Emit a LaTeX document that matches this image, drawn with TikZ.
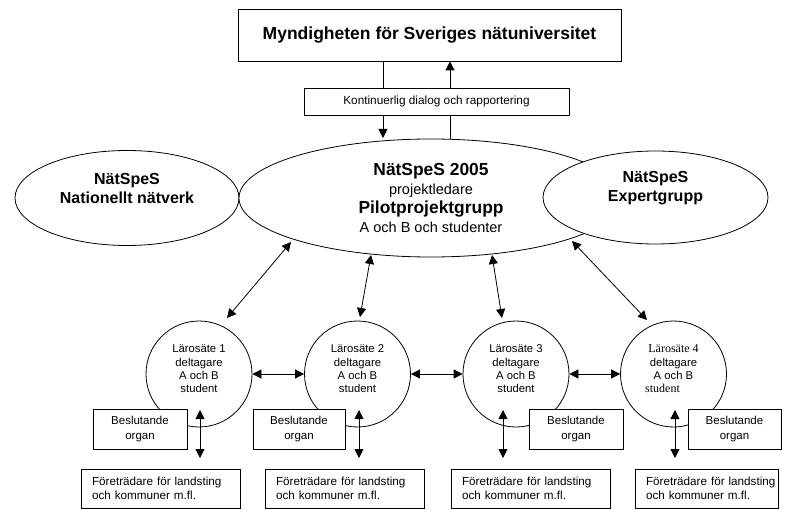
\documentclass[tikz,border=0pt]{standalone}
\usepackage{fontspec}
\setmainfont{Liberation Sans}
\newfontfamily\serifx{Liberation Serif}
\usetikzlibrary{arrows.meta,shapes.geometric}
\begin{document}
\begin{tikzpicture}[x=1pt,y=-1pt,
  line width=0.8pt,
  tri/.style={-{Triangle[length=9pt,width=9pt]}},
  bitri/.style={{Triangle[length=9pt,width=9pt]}-{Triangle[length=9pt,width=9pt]}},
  box/.style={draw,fill=white,rectangle,inner sep=0pt,align=center},
  ell/.style={draw,fill=white,ellipse,inner sep=0pt},
  etxt/.style={align=center,inner sep=0pt,font=\bfseries\fontsize{16}{19}\selectfont},
  laro/.style={draw,fill=white,circle,minimum size=106pt,inner sep=0pt},
  ltxt/.style={align=center,inner sep=0pt,font=\fontsize{11.3}{13.4}\selectfont},
  besl/.style={box,minimum height=40pt,font=\fontsize{11.5}{15}\selectfont},
  foret/.style={box,minimum height=39pt,minimum width=#1,align=left,text width=#1-22pt,font=\fontsize{11.7}{14}\selectfont},
]
\useasboundingbox (0,0) rectangle (789,510);

\node[box,minimum width=383pt,minimum height=52pt,font=\bfseries\fontsize{17.5}{20}\selectfont] (top) at (429.5,35) {Myndigheten för Sveriges nätuniversitet};
\node[box,minimum width=265pt,minimum height=27pt,font=\fontsize{11.8}{14}\selectfont] (kont) at (436.5,101.5) {Kontinuerlig dialog och rapportering};

\node[ell,minimum width=224pt,minimum height=95pt] (lefte) at (127,198) {};
\node[etxt] (leftt) at (127,188.5) {NätSpeS\\Nationellt nätverk};
\node[ell,minimum width=384pt,minimum height=118pt,align=center,font=\fontsize{14.5}{18.7}\selectfont] (cent) at (431,198) {%
{\bfseries\fontsize{17.4}{18.7}\selectfont NätSpeS 2005}\\%
projektledare\\%
{\bfseries\fontsize{17.4}{18.7}\selectfont Pilotprojektgrupp}\\%
A och B och studenter};
\node[ell,minimum width=225pt,minimum height=93pt] (righte) at (655.5,197.5) {};
\node[etxt] (rightt) at (655.5,188.5) {NätSpeS\\Expertgrupp};

% top connectors
\coordinate (xa) at (383,0);
\coordinate (xb) at (450,0);
\draw (xa |- top.south) -- (xa |- kont.north);
\draw[tri] (xb |- kont.north) -- (xb |- top.south);
\draw[tri] (xa |- kont.south) -- (383,138);
\draw (xb |- kont.south) -- (450,139.5);

% Larosaten
\node[laro] (l1) at (199,374) {};
\node[laro] (l2) at (357.5,374) {};
\node[laro] (l3) at (516,374) {};
\node[laro] (l4) at (673.5,374) {};
\node[ltxt] (t1) at (199,369) {Lärosäte 1\\deltagare\\A och B\\student};
\node[ltxt] (t2) at (357.5,369) {Lärosäte 2\\deltagare\\A och B\\student};
\node[ltxt] (t3) at (516,369) {Lärosäte 3\\deltagare\\A och B\\student};
\node[ltxt] (t4) at (673.5,369) {{\serifx\fontsize{12}{13.4}\selectfont Lärosäte 4}\\deltagare\\A och B\\\hspace*{-22pt}{\serifx\fontsize{12}{13.4}\selectfont student}};

% arrows from central ellipse
\coordinate (c1) at (291,242); \coordinate (d1) at (227,318);
\coordinate (c2) at (371,255); \coordinate (d2) at (360,317);
\coordinate (c3) at (492,255); \coordinate (d3) at (502,318);
\coordinate (c4) at (572,241); \coordinate (d4) at (647,320);
\draw[bitri] (d1) -- (c1);
\draw[bitri] (d2) -- (c2);
\draw[bitri] (d3) -- (c3);
\draw[bitri] (d4) -- (c4);

% horizontal arrows
\draw[bitri] (l1) -- (l2);
\draw[bitri] (l2) -- (l3);
\draw[bitri] (l3) -- (l4);

% Beslutande organ
\node[besl,minimum width=94pt] (b1) at (140,429) {Beslutande\\organ};
\node[besl,minimum width=92pt] (b2) at (299,429) {Beslutande\\organ};
\node[besl,minimum width=94pt] (b3) at (576,429) {Beslutande\\organ};
\node[besl,minimum width=93pt] (b4) at (734.5,429) {Beslutande\\organ};

% Foretradare
\node[foret=159pt] (f1) at (160.5,488.5) {\mbox{Företrädare för landsting}\\\mbox{och kommuner m.fl.}};
\node[foret=159pt] (f2) at (344.5,488.5) {\mbox{Företrädare för landsting}\\\mbox{och kommuner m.fl.}};
\node[foret=159pt] (f3) at (530.5,488.5) {\mbox{Företrädare för landsting}\\\mbox{och kommuner m.fl.}};
\node[foret=143pt] (f4) at (706.5,488.5) {\mbox{Företrädare för landsting}\\\mbox{och kommuner m.fl.}};

% vertical arrows
\foreach \i/\x in {1/200,2/359,3/503,4/675}{
  \coordinate (u\i) at (\x,410);
  \coordinate (v\i) at (\x,458);
  \draw[bitri] (u\i) -- (v\i);
}
\end{tikzpicture}
\end{document}
